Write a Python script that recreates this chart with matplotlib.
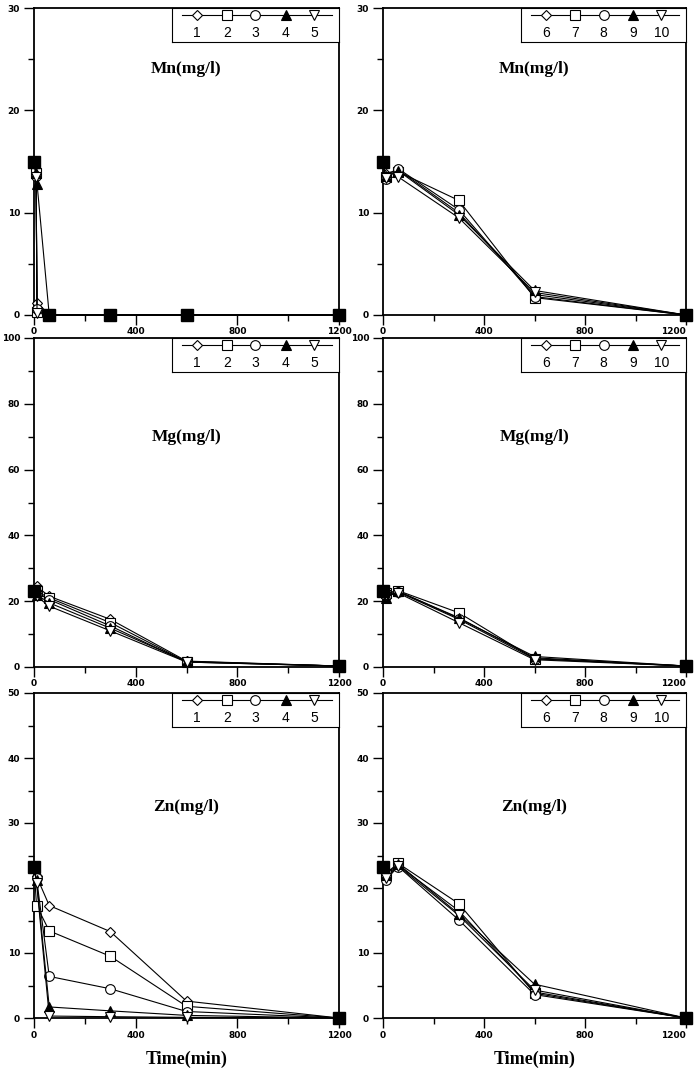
import matplotlib
matplotlib.use("Agg")
import matplotlib.pyplot as plt
from matplotlib.ticker import MultipleLocator, FixedLocator

# sampling times (min)
t = [0, 10, 60, 300, 600, 1200]
t_mn1 = [0, 8, 12, 60, 300, 600, 1200]   # Mn, runs 1-5 (extra early sample)
x_ticks = [0, 400, 800, 1200]

# Mn (mg/l)
mn = {
    1: [15, 13.7, 1.2, 0.05, 0, 0, 0],
    2: [15, 13.9, 0.3, 0, 0, 0, 0],
    3: [15, 13.6, 0.6, 0, 0, 0, 0],
    4: [15, 13.9, 12.8, 0, 0, 0, 0],
    5: [15, 13.5, 0.2, 0, 0, 0, 0],
    6: [15, 13.8, 14.2, 10.0, 2.0, 0],
    7: [15, 13.5, 14.0, 11.2, 1.7, 0],
    8: [15, 13.3, 14.3, 10.3, 1.8, 0],
    9: [15, 13.6, 14.1, 9.8, 2.4, 0],
    10: [15, 13.4, 13.5, 9.5, 2.2, 0],
}
# Mg (mg/l)
mg = {
    1: [23, 24.5, 21.5, 14.5, 1.8, 0.3],
    2: [23, 23.0, 21.0, 13.5, 1.6, 0.3],
    3: [23, 22.5, 20.5, 12.5, 1.5, 0.3],
    4: [23, 22.0, 19.5, 11.8, 1.7, 0.3],
    5: [23, 21.5, 18.5, 11.0, 1.5, 0.3],
    6: [23, 22.0, 23.0, 15.0, 2.8, 0.3],
    7: [23, 22.5, 23.2, 16.5, 2.5, 0.3],
    8: [23, 21.5, 22.8, 14.5, 2.5, 0.3],
    9: [23, 21.0, 23.0, 14.8, 3.2, 0.3],
    10: [23, 21.8, 22.5, 13.5, 2.2, 0.3],
}
# Zn (mg/l)
zn = {
    1: [23.2, 21.8, 17.3, 13.3, 2.6, 0],
    2: [23.2, 17.3, 13.4, 9.5, 1.8, 0],
    3: [23.2, 21.5, 6.4, 4.5, 1.0, 0],
    4: [23.2, 21.2, 1.7, 1.1, 0.4, 0],
    5: [23.2, 20.8, 0.3, 0.2, 0.1, 0],
    6: [23.2, 21.8, 23.5, 16.5, 4.0, 0],
    7: [23.2, 22.2, 23.8, 17.6, 3.8, 0],
    8: [23.2, 21.2, 23.3, 15.1, 3.6, 0],
    9: [23.2, 22.0, 23.7, 16.0, 5.2, 0],
    10: [23.2, 21.5, 23.4, 15.8, 4.3, 0],
}
# big filled squares (feed / overlapping points)
sq_mn1_t, sq_mn1_v = [0, 60, 300, 600, 1200], [15, 0, 0, 0, 0]
sq_t = [0, 1200]
sq_mn_v = [15, 0]
sq_mg_v = [23, 0.3]
sq_zn_v = [23.2, 0]

markers = {1: 'D', 2: 's', 3: 'o', 4: '^', 5: 'v'}
filled = {4}

W, H = 6.96, 10.72
fig = plt.figure(figsize=(W, H), dpi=100)

cols = [(34, 305), (383, 303)]
rows = [(8, 315), (338, 667), (693, 1018)]

def mk(ax, x, y, i, ms=7):
    k = (i - 1) % 5 + 1
    m = markers[k]
    fc = 'black' if k in filled else 'white'
    s = ms * (0.75 if m == 'D' else 1.0)
    ax.plot(x, y, color='black', lw=0.8, marker=m, ms=s, mfc=fc,
            mec='black', mew=0.8, clip_on=False, zorder=3)

def legend_box(ax, ids):
    axh = ax.get_position().height * H * 100
    axw = ax.get_position().width * W * 100
    wpx = axw - (172 - 34)
    lg = ax.inset_axes([1 - wpx / axw, 1 - 34 / axh, wpx / axw, 34 / axh])
    lg.set_xlim(0, 1)
    lg.set_ylim(0, 1)
    lg.set_xticks([])
    lg.set_yticks([])
    for s in lg.spines.values():
        s.set_linewidth(0.8)
    lg.plot([0.06, 0.96], [0.79, 0.79], color='black', lw=0.8)
    xs = [0.15, 0.33, 0.50, 0.68, 0.85]
    for x, i in zip(xs, ids):
        k = (i - 1) % 5 + 1
        m = markers[k]
        fc = 'black' if k in filled else 'white'
        lg.plot([x], [0.79], marker=m, ms=7 * (0.75 if m == 'D' else 1.0),
                mfc=fc, mec='black', mew=0.8, color='black')
        lg.text(x, 0.27, str(i), ha='center', va='center', fontsize=10,
                family='Liberation Sans')

panels = [
    (0, 0, mn, t_mn1, [1, 2, 3, 4, 5], 30, 10, 5, 'Mn(mg/l)', 0.80, (sq_mn1_t, sq_mn1_v)),
    (0, 1, mn, t, [6, 7, 8, 9, 10], 30, 10, 5, 'Mn(mg/l)', 0.80, (sq_t, sq_mn_v)),
    (1, 0, mg, t, [1, 2, 3, 4, 5], 100, 20, 10, 'Mg(mg/l)', 0.70, (sq_t, sq_mg_v)),
    (1, 1, mg, t, [6, 7, 8, 9, 10], 100, 20, 10, 'Mg(mg/l)', 0.70, (sq_t, sq_mg_v)),
    (2, 0, zn, t, [1, 2, 3, 4, 5], 50, 10, 5, 'Zn(mg/l)', 0.65, (sq_t, sq_zn_v)),
    (2, 1, zn, t, [6, 7, 8, 9, 10], 50, 10, 5, 'Zn(mg/l)', 0.65, (sq_t, sq_zn_v)),
]

for r, c, data, tt, ids, ymax, ymaj, ymin, title, ty, sq in panels:
    x0, w = cols[c]
    top, bot = rows[r]
    ax = fig.add_axes([x0 / (W * 100), 1 - bot / (H * 100), w / (W * 100), (bot - top) / (H * 100)])
    for i in ids:
        mk(ax, tt, data[i], i)
    ax.plot(sq[0], sq[1], ls='none', marker='s', ms=8, color='black',
            clip_on=False, zorder=4)
    ax.set_xlim(0, 1200)
    ax.set_ylim(0, ymax)
    ax.xaxis.set_major_locator(FixedLocator(x_ticks))
    ax.xaxis.set_minor_locator(MultipleLocator(200))
    ax.yaxis.set_major_locator(MultipleLocator(ymaj))
    ax.yaxis.set_minor_locator(MultipleLocator(ymin))
    ax.tick_params(which='major', direction='out', length=7, width=1)
    ax.tick_params(which='minor', direction='out', length=4, width=1)
    ax.tick_params(axis='x', pad=2)
    ax.tick_params(axis='y', pad=3)
    for lab in ax.get_xticklabels() + ax.get_yticklabels():
        lab.set_fontsize(6.5)
        lab.set_fontweight('bold')
    if c == 1:
        # last x label sits against the figure edge
        ax.xaxis.get_major_ticks()[-1].label1.set_horizontalalignment('right')
    for s in ax.spines.values():
        s.set_linewidth(1.3)
    ax.text(0.5, ty, title, transform=ax.transAxes, ha='center', va='center',
            fontsize=12.5, fontweight='bold', family='Liberation Serif')
    legend_box(ax, ids)
    if r == 2:
        ax.set_xlabel('Time(min)', fontsize=13, fontweight='bold',
                      family='Liberation Serif', labelpad=8)

fig.savefig('out.png', dpi=100)
